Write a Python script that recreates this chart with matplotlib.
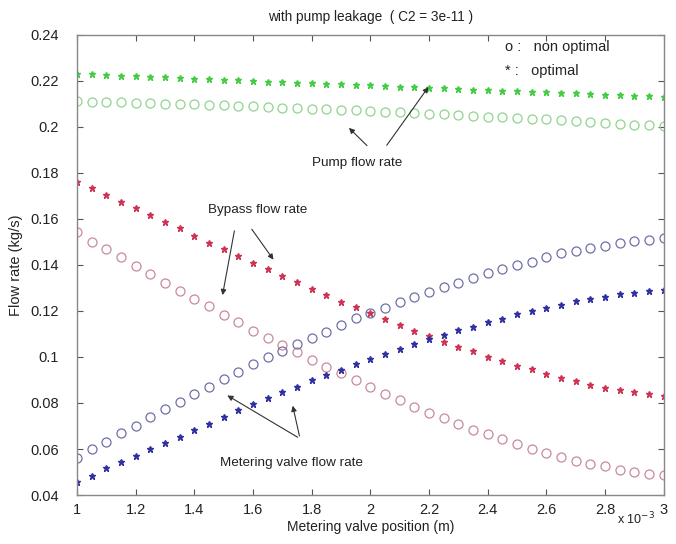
import matplotlib
matplotlib.use("Agg")
import matplotlib.pyplot as plt

# metering valve position (x 1e-3 m)
posicao = [1.00, 1.05, 1.10, 1.15, 1.20, 1.25, 1.30, 1.35, 1.40, 1.45,
           1.50, 1.55, 1.60, 1.65, 1.70, 1.75, 1.80, 1.85, 1.90, 1.95,
           2.00, 2.05, 2.10, 2.15, 2.20, 2.25, 2.30, 2.35, 2.40, 2.45,
           2.50, 2.55, 2.60, 2.65, 2.70, 2.75, 2.80, 2.85, 2.90, 2.95, 3.00]

bomba_otimo = [0.2230, 0.2228, 0.2225, 0.2223, 0.2220, 0.2218, 0.2215, 0.2213, 0.2210, 0.2208,
               0.2205, 0.2203, 0.2200, 0.2197, 0.2195, 0.2192, 0.2190, 0.2187, 0.2185, 0.2182,
               0.2180, 0.2177, 0.2175, 0.2172, 0.2170, 0.2167, 0.2165, 0.2162, 0.2160, 0.2157,
               0.2155, 0.2153, 0.2150, 0.2148, 0.2145, 0.2143, 0.2140, 0.2138, 0.2135, 0.2133, 0.2130]
bomba_nao_otimo = [0.2112, 0.2110, 0.2108, 0.2107, 0.2105, 0.2103, 0.2101, 0.2100, 0.2098, 0.2096,
                   0.2094, 0.2092, 0.2089, 0.2087, 0.2084, 0.2082, 0.2079, 0.2077, 0.2074, 0.2072,
                   0.2069, 0.2066, 0.2063, 0.2060, 0.2057, 0.2054, 0.2051, 0.2048, 0.2045, 0.2042,
                   0.2039, 0.2036, 0.2032, 0.2029, 0.2025, 0.2022, 0.2018, 0.2014, 0.2010, 0.2007, 0.2003]

bypass_otimo = [0.1762, 0.1733, 0.1704, 0.1675, 0.1647, 0.1617, 0.1588, 0.1560, 0.1527, 0.1497,
                0.1470, 0.1439, 0.1410, 0.1383, 0.1353, 0.1325, 0.1296, 0.1270, 0.1240, 0.1216,
                0.1190, 0.1163, 0.1139, 0.1114, 0.1091, 0.1067, 0.1045, 0.1026, 0.1002, 0.0984,
                0.0960, 0.0947, 0.0926, 0.0910, 0.0897, 0.0878, 0.0867, 0.0855, 0.0847, 0.0839, 0.0832]
bypass_nao_otimo = [0.1542, 0.1501, 0.1470, 0.1433, 0.1397, 0.1360, 0.1323, 0.1288, 0.1252, 0.1220,
                    0.1184, 0.1151, 0.1114, 0.1081, 0.1052, 0.1020, 0.0987, 0.0958, 0.0929, 0.0900,
                    0.0868, 0.0839, 0.0813, 0.0784, 0.0758, 0.0733, 0.0707, 0.0683, 0.0664, 0.0642,
                    0.0622, 0.0599, 0.0584, 0.0564, 0.0549, 0.0533, 0.0526, 0.0509, 0.0501, 0.0491, 0.0487]

valvula_otimo = [0.0458, 0.0483, 0.0516, 0.0545, 0.0570, 0.0599, 0.0628, 0.0654, 0.0683, 0.0708,
                 0.0740, 0.0770, 0.0796, 0.0820, 0.0849, 0.0871, 0.0900, 0.0922, 0.0943, 0.0970,
                 0.0990, 0.1012, 0.1033, 0.1055, 0.1077, 0.1096, 0.1117, 0.1132, 0.1153, 0.1167,
                 0.1187, 0.1201, 0.1214, 0.1228, 0.1243, 0.1252, 0.1262, 0.1274, 0.1280, 0.1287, 0.1291]
valvula_nao_otimo = [0.0560, 0.0599, 0.0632, 0.0668, 0.0701, 0.0738, 0.0773, 0.0806, 0.0840, 0.0869,
                     0.0904, 0.0936, 0.0968, 0.0999, 0.1027, 0.1057, 0.1081, 0.1110, 0.1139, 0.1168,
                     0.1192, 0.1214, 0.1240, 0.1262, 0.1284, 0.1305, 0.1323, 0.1342, 0.1364, 0.1383,
                     0.1400, 0.1414, 0.1433, 0.1451, 0.1462, 0.1473, 0.1484, 0.1494, 0.1504, 0.1509, 0.1516]

xticks = [1, 1.2, 1.4, 1.6, 1.8, 2, 2.2, 2.4, 2.6, 2.8, 3]
xtick_labels = ['1', '1.2', '1.4', '1.6', '1.8', '2', '2.2', '2.4', '2.6', '2.8', '3']
yticks = [0.04, 0.06, 0.08, 0.1, 0.12, 0.14, 0.16, 0.18, 0.2, 0.22, 0.24]
ytick_labels = ['0.04', '0.06', '0.08', '0.1', '0.12', '0.14', '0.16', '0.18', '0.2', '0.22', '0.24']

plt.rcParams['font.family'] = ['Liberation Sans', 'DejaVu Sans']

fig = plt.figure(figsize=(6.76, 5.44), dpi=100)
ax = fig.add_axes([0.114, 0.090, 0.868, 0.846])

# circulos = nao optimo, estrelas = optimo
ax.plot(posicao, bomba_nao_otimo, 'o', mfc='none', mec='#8fd48f', ms=6.5, mew=0.9)
ax.plot(posicao, bomba_otimo, '*', color='#44cc44', ms=5)
ax.plot(posicao, bypass_nao_otimo, 'o', mfc='none', mec='#c98a9a', ms=6.5, mew=0.9)
ax.plot(posicao, bypass_otimo, '*', color='#cc3355', ms=5)
ax.plot(posicao, valvula_nao_otimo, 'o', mfc='none', mec='#7070a8', ms=6.5, mew=0.9)
ax.plot(posicao, valvula_otimo, '*', color='#3030a0', ms=5)

ax.set_xlim(1, 3)
ax.set_ylim(0.04, 0.24)
ax.set_xticks(xticks)
ax.set_xticklabels(xtick_labels)
ax.set_yticks(yticks)
ax.set_yticklabels(ytick_labels)
ax.tick_params(direction='in', length=4, labelsize=10.5, colors='#555555', labelcolor='#222222')
ax.tick_params(axis='x', pad=6)
ax.tick_params(axis='y', pad=13)
ax.tick_params(axis='both', top=True, right=True)
for s in ax.spines.values():
    s.set_color('#888888')
    s.set_linewidth(1.0)

ax.set_title('with pump leakage  ( C2 = 3e-11 )', fontsize=9.8, color='#222222', pad=10)
ax.set_xlabel('Metering valve position (m)', fontsize=10, color='#222222', labelpad=2)
ax.set_ylabel('Flow rate (kg/s)', fontsize=10.5, color='#222222', labelpad=5)
ax.text(0.985, -0.034, r'x 10$^{-3}$', transform=ax.transAxes, ha='right', va='top',
        fontsize=9, color='#222222')

# legenda em texto (como no original)
ax.text(2.458, 0.2348, 'o :   non optimal', fontsize=10.5, color='#222222', va='center')
ax.text(2.458, 0.2243, '* :   optimal', fontsize=10.5, color='#222222', va='center')

seta = dict(arrowstyle='-|>', color='#333333', lw=0.8, mutation_scale=8)

ax.text(1.954, 0.1843, 'Pump flow rate', fontsize=9.7, color='#222222', ha='center', va='center')
ax.annotate('', xy=(1.92, 0.2004), xytext=(1.995, 0.1910), arrowprops=seta)
ax.annotate('', xy=(2.203, 0.2183), xytext=(2.05, 0.1910), arrowprops=seta)

ax.text(1.617, 0.1639, 'Bypass flow rate', fontsize=9.7, color='#222222', ha='center', va='center')
ax.annotate('', xy=(1.494, 0.1257), xytext=(1.538, 0.1560), arrowprops=seta)
ax.annotate('', xy=(1.675, 0.1413), xytext=(1.590, 0.1565), arrowprops=seta)

ax.text(1.729, 0.0539, 'Metering valve flow rate', fontsize=9.7, color='#222222', ha='center', va='center')
ax.annotate('', xy=(1.504, 0.0839), xytext=(1.760, 0.0645), arrowprops=seta)
ax.annotate('', xy=(1.733, 0.0800), xytext=(1.760, 0.0645), arrowprops=seta)

fig.savefig('out.png', dpi=100, facecolor='white')
plt.close(fig)
